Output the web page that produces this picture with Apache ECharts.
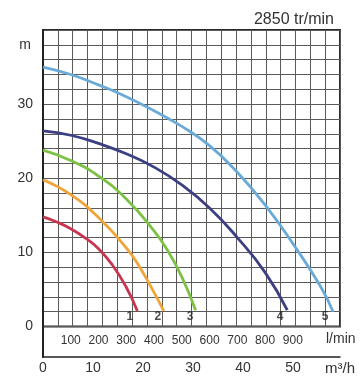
<!DOCTYPE html>
<html>
<head>
<meta charset="utf-8">
<script src="https://cdn.jsdelivr.net/npm/echarts@6/dist/echarts.min.js"></script>
<style>
html,body{margin:0;padding:0;background:#fff;}
#chart{width:363px;height:376px;}
</style>
</head>
<body>
<div id="chart"></div>
<script>
// Flow in l/min, head in m
const curve1 = [[0,14.8],[50,14.1],[100,13.2],[150,12.0],[200,10.5],[250,8.3],[300,5.3],[340,2.1]];
const curve2 = [[0,19.8],[100,17.8],[200,14.7],[300,10.6],[350,7.9],[400,4.6],[435,2.1]];
const curve3 = [[0,23.8],[100,22.4],[200,20.3],[300,17.2],[400,12.9],[450,10.2],[500,6.7],[550,2.2]];
const curve4 = [[0,26.4],[100,25.8],[200,24.7],[300,23.3],[400,21.5],[500,19.1],[600,16.0],[700,12.0],[800,7.3],[880,2.2]];
const curve5 = [[0,35.0],[100,34.0],[200,32.6],[300,31.0],[400,29.1],[500,27.0],[600,24.4],[700,20.8],[800,16.4],[900,11.2],[1000,5.4],[1045,2.0]];
const curveNames = ['1','2','3','4','5'];
const curveLabelPos = [[313,1.3],[414,1.3],[530,1.3],[854,1.3],[1016,1.3]];
const curveColors = ['#c8374f','#f0a53a','#7cc245','#3c3f82','#6aaad8'];
const yTickLabels = [0,10,20,30];
const lminTickLabels = [100,200,300,400,500,600,700,800,900];
const m3hTickLabels = [0,10,20,30,40,50];
const titleText = '2850 tr/min';

const FONT = 'Liberation Sans, Arial, sans-serif';
const chart = echarts.init(document.getElementById('chart'), null, {renderer:'canvas'});
const curves = [curve1, curve2, curve3, curve4, curve5];

const series = curves.map((d,i)=>({
  type:'line', name:curveNames[i], xAxisIndex:1, yAxisIndex:0,
  data:d, smooth:true, showSymbol:false, symbol:'none',
  lineStyle:{color:curveColors[i], width:2.8}, z:5, silent:true
}));
series.push({
  type:'scatter', xAxisIndex:1, yAxisIndex:0, symbolSize:0, z:6, silent:true,
  data: curveLabelPos.map((p,i)=>({value:p, name:curveNames[i]})),
  label:{show:true, position:'inside', formatter:p=>p.name, fontSize:12, fontWeight:'bold', color:'#222', fontFamily:FONT}
});

chart.setOption({
  animation:false,
  backgroundColor:'#fff',
  title:{text:titleText, right:29, top:12, padding:0, textStyle:{fontSize:16, fontWeight:'normal', color:'#333', fontFamily:FONT}},
  grid:[
    {left:43, top:30, width:297, height:296.5, show:true, borderColor:'#2a2a2a', borderWidth:2, backgroundColor:'#fff'},
    {left:43, top:30, width:297, height:327}
  ],
  xAxis:[
    {gridIndex:0, type:'value', min:0, max:20, interval:1, axisLine:{show:false}, axisTick:{show:false}, axisLabel:{show:false},
     splitLine:{show:true, lineStyle:{color:'#5a5a5a', width:1}}},
    {gridIndex:0, type:'value', min:0, max:1070, interval:100, position:'bottom', axisLine:{show:false}, axisTick:{show:false},
     splitLine:{show:false},
     axisLabel:{margin:8, fontSize:12, color:'#333', fontFamily:FONT, showMinLabel:false, showMaxLabel:false,
       formatter:v=> lminTickLabels.indexOf(v)>=0 ? String(v) : ''},
     name:'l/min', nameLocation:'end', nameGap:-14,
     nameTextStyle:{fontSize:14, color:'#333', fontFamily:FONT, verticalAlign:'top', padding:[6,0,0,0]}},
    {gridIndex:1, type:'value', min:0, max:59.4, interval:10, position:'bottom',
     axisLine:{show:true, lineStyle:{color:'#222', width:1.5}}, axisTick:{show:false}, splitLine:{show:false},
     axisLabel:{margin:4, fontSize:14, color:'#333', fontFamily:FONT, showMaxLabel:false,
       formatter:v=> m3hTickLabels.indexOf(v)>=0 ? String(v) : ''},
     name:'m³/h', nameLocation:'end', nameGap:-15,
     nameTextStyle:{fontSize:15, color:'#333', fontFamily:FONT, verticalAlign:'top', padding:[4,0,0,0]}}
  ],
  yAxis:[
    {gridIndex:0, type:'value', min:0, max:40, interval:2, axisLine:{show:false}, axisTick:{show:false},
     splitLine:{show:true, lineStyle:{color:'#5a5a5a', width:1}},
     axisLabel:{margin:10, fontSize:14, color:'#333', fontFamily:FONT,
       formatter:v=> yTickLabels.indexOf(v)>=0 ? String(v) : ''},
     name:'m', nameLocation:'end', nameGap:-22,
     nameTextStyle:{fontSize:14, color:'#333', fontFamily:FONT, align:'right', padding:[0,12,0,0]}},
    {gridIndex:1, type:'value', min:0, max:1, axisLine:{show:true, lineStyle:{color:'#222', width:2}},
     axisTick:{show:false}, axisLabel:{show:false}, splitLine:{show:false}}
  ],
  series:series
});
</script>
</body>
</html>
